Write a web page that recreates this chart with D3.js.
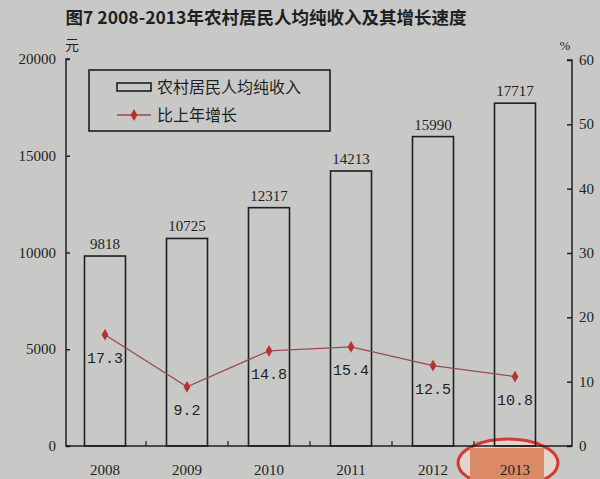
<!DOCTYPE html>
<html><head><meta charset="utf-8">
<script src="https://cdn.jsdelivr.net/npm/d3@7/dist/d3.min.js"></script>
<style>body{margin:0;background:#c8c9c6;}svg{display:block;}</style>
</head><body>
<script>
const years = ["2008","2009","2010","2011","2012","2013"];
const income = [9818,10725,12317,14213,15990,17717];
const growth = [17.3,9.2,14.8,15.4,12.5,10.8];
const leftTicks = [0,5000,10000,15000,20000];
const rightTicks = [0,10,20,30,40,50,60];
const title = "图7 2008-2013年农村居民人均纯收入及其增长速度";
const legendLabels = ["农村居民人均纯收入","比上年增长"];

const W=600,H=479;
const svg=d3.select("body").append("svg").attr("width",W).attr("height",H);
svg.append("rect").attr("width",W).attr("height",H).attr("fill","#c8c9c6");

const x=d3.scaleBand().domain(years).range([64,556]).paddingInner(0.5).paddingOuter(0.25);
const yL=d3.scaleLinear().domain([0,20000]).range([446,59]);
const yR=d3.scaleLinear().domain([0,60]).range([446,60]);
const ink="#1e1f22";
const serif="'Liberation Serif','DejaVu Serif',serif";
const cjk="'Noto Sans CJK SC',sans-serif";

// title
svg.append("text").attr("x",266).attr("y",24).attr("text-anchor","middle")
  .attr("font-family",cjk).attr("font-weight","bold").attr("font-size",17.5)
  .attr("fill",ink).text(title);
svg.append("text").attr("x",72).attr("y",50).attr("text-anchor","middle")
  .attr("font-family",cjk).attr("font-size",14).attr("fill",ink).text("元");
svg.append("text").attr("x",565).attr("y",50).attr("text-anchor","middle")
  .attr("font-family",serif).attr("font-size",13).attr("fill",ink).text("%");

// watermark (behind labels)
svg.append("ellipse").attr("cx",508).attr("cy",463).attr("rx",50).attr("ry",24)
  .attr("fill","#e0d4cc").attr("stroke","#d33a36").attr("stroke-width",3);
svg.append("rect").attr("x",470).attr("y",448).attr("width",74).attr("height",31)
  .attr("fill","#dc8a66");

// left axis
const gL=svg.append("g").attr("transform","translate(66,0)")
  .call(d3.axisRight(yL).tickValues(leftTicks).tickSize(4).tickFormat(""));
gL.select(".domain").attr("stroke",ink).attr("stroke-width",1.5).attr("d","M4,59H0V446H4");
gL.selectAll(".tick line").attr("stroke",ink).attr("stroke-width",1.5);
svg.selectAll(".ltl").data(leftTicks).enter().append("text")
  .attr("x",56).attr("y",d=>yL(d)+5).attr("text-anchor","end")
  .attr("font-family",serif).attr("font-size",15).attr("fill",ink).text(d=>d);

// right axis
const gR=svg.append("g").attr("transform","translate(572,0)")
  .call(d3.axisLeft(yR).tickValues(rightTicks).tickSize(5).tickFormat(""));
gR.select(".domain").attr("stroke",ink).attr("stroke-width",1.5).attr("d","M-5,60H0V446H-5");
gR.selectAll(".tick line").attr("stroke",ink).attr("stroke-width",1.5);
svg.selectAll(".rtl").data(rightTicks).enter().append("text")
  .attr("x",579).attr("y",d=>yR(d)+5).attr("text-anchor","start")
  .attr("font-family",serif).attr("font-size",15).attr("fill",ink).text(d=>d);

// bottom axis
svg.append("line").attr("x1",66).attr("x2",572).attr("y1",446).attr("y2",446)
  .attr("stroke",ink).attr("stroke-width",1.5);
const bounds=years.slice(1).map(d=>x(d)-x.step()*x.paddingInner()/2);
svg.selectAll(".xt").data(bounds).enter().append("line")
  .attr("x1",d=>d).attr("x2",d=>d).attr("y1",446).attr("y2",441)
  .attr("stroke",ink).attr("stroke-width",1.2);
svg.selectAll(".xtl").data(years).enter().append("text")
  .attr("x",d=>x(d)+x.bandwidth()/2).attr("y",475).attr("text-anchor","middle")
  .attr("font-family",serif).attr("font-size",15).attr("fill",ink).text(d=>d);

// bars
svg.selectAll(".bar").data(income).enter().append("rect")
  .attr("x",(d,i)=>x(years[i])).attr("width",x.bandwidth())
  .attr("y",d=>yL(d)).attr("height",d=>yL(0)-yL(d))
  .attr("fill","none").attr("stroke",ink).attr("stroke-width",1.6);
svg.selectAll(".bl").data(income).enter().append("text")
  .attr("x",(d,i)=>x(years[i])+x.bandwidth()/2).attr("y",d=>yL(d)-7)
  .attr("text-anchor","middle").attr("font-family",serif).attr("font-size",15)
  .attr("fill",ink).text(d=>d);

// line
const lineCol="#9b4a50", ptCol="#b8322e";
const line=d3.line().x((d,i)=>x(years[i])+x.bandwidth()/2).y(d=>yR(d));
svg.append("path").datum(growth).attr("d",line).attr("fill","none")
  .attr("stroke",lineCol).attr("stroke-width",1.3);
const diamond=d3.symbol().type(d3.symbolDiamond).size(40);
svg.selectAll(".pt").data(growth).enter().append("path")
  .attr("d",diamond).attr("fill",ptCol)
  .attr("transform",(d,i)=>`translate(${x(years[i])+x.bandwidth()/2},${yR(d)})`);
svg.selectAll(".gl").data(growth).enter().append("text")
  .attr("x",(d,i)=>x(years[i])+x.bandwidth()/2).attr("y",d=>yR(d)+28)
  .attr("text-anchor","middle").attr("font-family","'Liberation Mono',monospace")
  .attr("font-size",15).attr("fill",ink).text(d=>d.toFixed(1));

// legend
svg.append("rect").attr("x",89).attr("y",70).attr("width",241).attr("height",61)
  .attr("fill","none").attr("stroke",ink).attr("stroke-width",1.6);
svg.append("rect").attr("x",117).attr("y",83).attr("width",34).attr("height",8)
  .attr("fill","none").attr("stroke",ink).attr("stroke-width",1.6);
svg.append("line").attr("x1",117).attr("x2",151).attr("y1",115).attr("y2",115)
  .attr("stroke",lineCol).attr("stroke-width",1.3);
svg.append("path").attr("d",diamond).attr("fill",ptCol).attr("transform","translate(134,115)");
svg.selectAll(".lt").data(legendLabels).enter().append("text")
  .attr("x",157).attr("y",(d,i)=>93+i*28).attr("font-family",cjk).attr("font-size",16)
  .attr("fill",ink).text(d=>d);
</script>
</body></html>
